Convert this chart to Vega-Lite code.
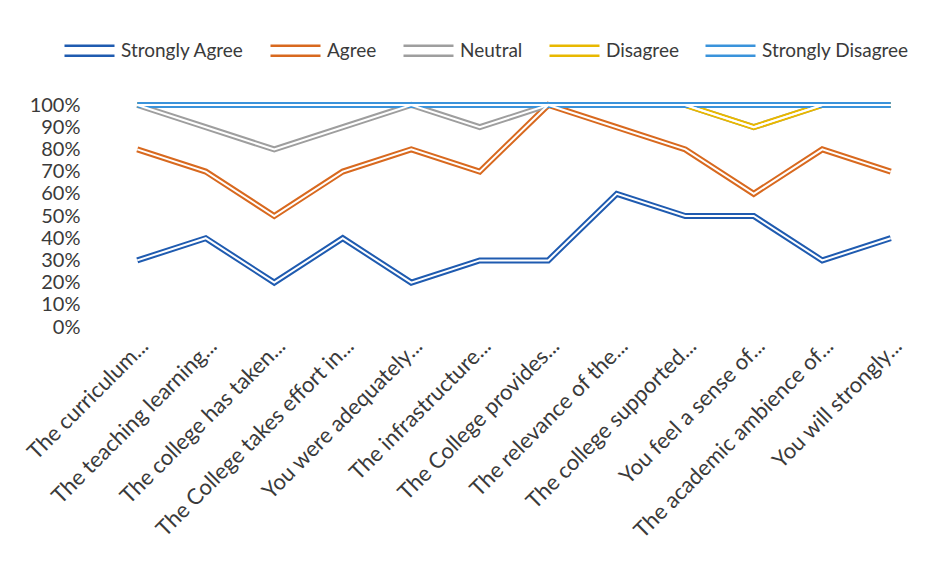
{
  "$schema": "https://vega.github.io/schema/vega-lite/v6.json",
  "width": 822,
  "height": 222,
  "autosize": "none",
  "padding": {"left": 103, "top": 105, "right": 15, "bottom": 235},
  "background": "white",
  "config": {"view": {"stroke": null}, "font": "Lato"},
  "data": {"values": [
    {"q": "The curriculum...", "i": 0, "s": "Strongly Agree", "v": 30},
    {"q": "The teaching learning...", "i": 1, "s": "Strongly Agree", "v": 40},
    {"q": "The college has taken...", "i": 2, "s": "Strongly Agree", "v": 20},
    {"q": "The College takes effort in...", "i": 3, "s": "Strongly Agree", "v": 40},
    {"q": "You were adequately...", "i": 4, "s": "Strongly Agree", "v": 20},
    {"q": "The infrastructure...", "i": 5, "s": "Strongly Agree", "v": 30},
    {"q": "The College provides...", "i": 6, "s": "Strongly Agree", "v": 30},
    {"q": "The relevance of the...", "i": 7, "s": "Strongly Agree", "v": 60},
    {"q": "The college supported...", "i": 8, "s": "Strongly Agree", "v": 50},
    {"q": "You feel a sense of...", "i": 9, "s": "Strongly Agree", "v": 50},
    {"q": "The academic ambience of...", "i": 10, "s": "Strongly Agree", "v": 30},
    {"q": "You will strongly...", "i": 11, "s": "Strongly Agree", "v": 40},

    {"q": "The curriculum...", "i": 0, "s": "Agree", "v": 80},
    {"q": "The teaching learning...", "i": 1, "s": "Agree", "v": 70},
    {"q": "The college has taken...", "i": 2, "s": "Agree", "v": 50},
    {"q": "The College takes effort in...", "i": 3, "s": "Agree", "v": 70},
    {"q": "You were adequately...", "i": 4, "s": "Agree", "v": 80},
    {"q": "The infrastructure...", "i": 5, "s": "Agree", "v": 70},
    {"q": "The College provides...", "i": 6, "s": "Agree", "v": 100},
    {"q": "The relevance of the...", "i": 7, "s": "Agree", "v": 90},
    {"q": "The college supported...", "i": 8, "s": "Agree", "v": 80},
    {"q": "You feel a sense of...", "i": 9, "s": "Agree", "v": 60},
    {"q": "The academic ambience of...", "i": 10, "s": "Agree", "v": 80},
    {"q": "You will strongly...", "i": 11, "s": "Agree", "v": 70},

    {"q": "The curriculum...", "i": 0, "s": "Neutral", "v": 100},
    {"q": "The teaching learning...", "i": 1, "s": "Neutral", "v": 90},
    {"q": "The college has taken...", "i": 2, "s": "Neutral", "v": 80},
    {"q": "The College takes effort in...", "i": 3, "s": "Neutral", "v": 90},
    {"q": "You were adequately...", "i": 4, "s": "Neutral", "v": 100},
    {"q": "The infrastructure...", "i": 5, "s": "Neutral", "v": 90},
    {"q": "The College provides...", "i": 6, "s": "Neutral", "v": 100},
    {"q": "The relevance of the...", "i": 7, "s": "Neutral", "v": 100},
    {"q": "The college supported...", "i": 8, "s": "Neutral", "v": 100},
    {"q": "You feel a sense of...", "i": 9, "s": "Neutral", "v": 90},
    {"q": "The academic ambience of...", "i": 10, "s": "Neutral", "v": 100},
    {"q": "You will strongly...", "i": 11, "s": "Neutral", "v": 100},

    {"q": "The curriculum...", "i": 0, "s": "Disagree", "v": 100},
    {"q": "The teaching learning...", "i": 1, "s": "Disagree", "v": 100},
    {"q": "The college has taken...", "i": 2, "s": "Disagree", "v": 100},
    {"q": "The College takes effort in...", "i": 3, "s": "Disagree", "v": 100},
    {"q": "You were adequately...", "i": 4, "s": "Disagree", "v": 100},
    {"q": "The infrastructure...", "i": 5, "s": "Disagree", "v": 100},
    {"q": "The College provides...", "i": 6, "s": "Disagree", "v": 100},
    {"q": "The relevance of the...", "i": 7, "s": "Disagree", "v": 100},
    {"q": "The college supported...", "i": 8, "s": "Disagree", "v": 100},
    {"q": "You feel a sense of...", "i": 9, "s": "Disagree", "v": 90},
    {"q": "The academic ambience of...", "i": 10, "s": "Disagree", "v": 100},
    {"q": "You will strongly...", "i": 11, "s": "Disagree", "v": 100},

    {"q": "The curriculum...", "i": 0, "s": "Strongly Disagree", "v": 100},
    {"q": "The teaching learning...", "i": 1, "s": "Strongly Disagree", "v": 100},
    {"q": "The college has taken...", "i": 2, "s": "Strongly Disagree", "v": 100},
    {"q": "The College takes effort in...", "i": 3, "s": "Strongly Disagree", "v": 100},
    {"q": "You were adequately...", "i": 4, "s": "Strongly Disagree", "v": 100},
    {"q": "The infrastructure...", "i": 5, "s": "Strongly Disagree", "v": 100},
    {"q": "The College provides...", "i": 6, "s": "Strongly Disagree", "v": 100},
    {"q": "The relevance of the...", "i": 7, "s": "Strongly Disagree", "v": 100},
    {"q": "The college supported...", "i": 8, "s": "Strongly Disagree", "v": 100},
    {"q": "You feel a sense of...", "i": 9, "s": "Strongly Disagree", "v": 100},
    {"q": "The academic ambience of...", "i": 10, "s": "Strongly Disagree", "v": 100},
    {"q": "You will strongly...", "i": 11, "s": "Strongly Disagree", "v": 100}
  ]},
  "encoding": {
    "x": {
      "field": "q", "type": "ordinal", "sort": {"field": "i"},
      "scale": {"type": "point", "padding": 0.5},
      "axis": {"title": null, "labelAngle": -45, "labelFontSize": 22, "labelColor": "#3a3a3a", "labelFont": "Lato", "domain": false, "ticks": false, "labelPadding": 8, "labelLimit": 400}
    },
    "y": {
      "field": "v", "type": "quantitative",
      "scale": {"domain": [0, 100]},
      "axis": {"title": null, "values": [0,10,20,30,40,50,60,70,80,90,100], "labelExpr": "datum.value + '%'", "labelFontSize": 20, "labelColor": "#3a3a3a", "labelFont": "Lato", "grid": false, "domain": false, "ticks": false, "labelPadding": 23}
    },
    "detail": {"field": "s"}
  },
  "layer": [
    {
      "mark": {"type": "line", "strokeWidth": 6, "strokeJoin": "miter"},
      "encoding": {
        "color": {
          "field": "s", "type": "nominal",
          "scale": {"domain": ["Strongly Agree", "Agree", "Neutral", "Disagree", "Strongly Disagree"],
                    "range": ["#1F5BB0", "#D8691F", "#9E9E9E", "#E8B800", "#3A93DB"]},
          "legend": {
            "title": null, "orient": "none", "direction": "horizontal",
            "legendX": -40, "legendY": -81,
            "symbolType": "M-1,-0.2H1M-1,0.2H1", "symbolSize": 2500, "symbolStrokeWidth": 2.5,
            "symbolOffset": 0,
            "labelFontSize": 19, "labelFont": "Lato", "labelColor": "#3a3a3a", "labelOffset": 5,
            "columnPadding": 21
          }
        },
        "order": {"field": "i"}
      }
    },
    {
      "mark": {"type": "line", "strokeWidth": 2, "color": "white", "strokeJoin": "miter"},
      "encoding": {"order": {"field": "i"}}
    }
  ]
}
